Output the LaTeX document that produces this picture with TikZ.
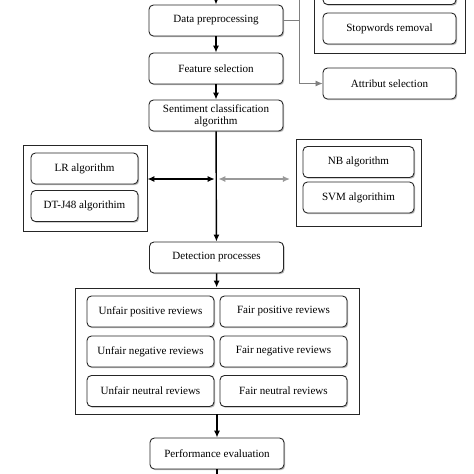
\documentclass[tikz,border=0pt]{standalone}
\usepackage{fontspec}
\setmainfont{Liberation Serif}
\usetikzlibrary{arrows.meta,shadows}

\begin{document}
\begin{tikzpicture}[x=0.02cm,y=-0.02cm,
	box/.style={draw=black!85,rounded corners=2.5pt,fill=white,line width=0.5pt,
		drop shadow={shadow xshift=0.7pt,shadow yshift=-0.7pt,fill=black!55},
		font=\fontsize{6.3}{7}\selectfont,align=center,inner sep=0pt,
		minimum width=2.68cm,minimum height=0.62cm},
	group/.style={draw=black!85,fill=white,line width=0.5pt,inner sep=0pt,
		drop shadow={shadow xshift=0.5pt,shadow yshift=-0.5pt,fill=black!20}},
	flow/.style={-{Latex[length=4pt,width=3.5pt]},line width=0.8pt},
	both/.style={{Latex[length=4pt,width=3.5pt]}-{Latex[length=4pt,width=3.5pt]},line width=0.8pt},
	tie/.style={black!50,line width=0.5pt}]
			          %cadre de la figure
			          \useasboundingbox (0,0) rectangle (474,474);
			          \clip (0,0) rectangle (474,474);
			          %groupes
			          \node[group,minimum width=3.02cm,minimum height=1.66cm] (pregroup) at (389.5,11.5) {};
			          \node[group,minimum width=2.48cm,minimum height=1.72cm] (lgroup) at (85,188) {};
			          \node[group,minimum width=2.5cm,minimum height=1.74cm] (rgroup) at (358.5,182.5) {};
			          \node[group,minimum width=5.68cm,minimum height=2.52cm] (revgroup) at (217,351) {};
			          %chaine principale
			          \node[box] (data) at (216,20.5) {Data preprocessing};
			          \node[box] (feat) at (216,68.5) {Feature selection};
			          \node[box] (senti) at (216,115.5) {Sentiment classification\\algorithm};
			          \node[box] (detect) at (216.5,257.5) {Detection processes};
			          \node[box] (perf) at (217,453.5) {Performance evaluation};
			          %pretraitement
			          \node[box,minimum width=2.66cm] (hidden) at (389.5,-11) {};
			          \node[box,minimum width=2.66cm] (stop) at (389.5,28.5) {Stopwords removal};
			          \node[box,minimum width=2.66cm] (attr) at (389.5,83.5) {Attribut selection};
			          %algorithmes
			          \node[box,minimum width=2.14cm] (lr) at (84.5,168.5) {LR algorithm};
			          \node[box,minimum width=2.14cm] (dt) at (84.5,206) {DT-J48 algorithim};
			          \node[box,minimum width=2.22cm] (nb) at (358.5,162) {NB algorithm};
			          \node[box,minimum width=2.22cm] (svm) at (358.5,197.5) {SVM algorithim};
			          %avis
			          \node[box,minimum width=2.54cm] (upos) at (150.5,311.5) {Unfair positive reviews};
			          \node[box,minimum width=2.54cm] (fpos) at (283.5,311.5) {Fair positive reviews};
			          \node[box,minimum width=2.54cm] (uneg) at (150.5,351.5) {Unfair negative reviews};
			          \node[box,minimum width=2.54cm] (fneg) at (283.5,351.5) {Fair negative reviews};
			          \node[box,minimum width=2.54cm] (uneu) at (150.5,391) {Unfair neutral reviews};
			          \node[box,minimum width=2.54cm] (fneu) at (283.5,391) {Fair neutral reviews};
			          %points libres
			          \coordinate (top) at (216,0);
			          \coordinate (bottom) at (217,474);
			          \coordinate (hub) at (216.5,179);
			          \coordinate (nbin) at (290,179);
			          \coordinate (split) at (299,20.5);
			          \coordinate (tiptop) at (299,0);
			          %fleches
			          \draw[flow] (top) -- (data);
			          \draw[flow] (data) -- (feat);
			          \draw[flow] (feat) -- (senti);
			          \draw[flow] (senti) -- (detect);
			          \draw[flow] (detect) -- (revgroup);
			          \draw[flow] (revgroup) -- (perf);
			          \draw[line width=0.8pt] (perf) -- (bottom);
			          \draw[both] (lgroup.east |- hub) -- ([xshift=-1pt]hub);
			          \draw[both,black!40] ([xshift=1pt]hub) -- (nbin);
			          \draw[tie] (data.east) -- (split);
			          \draw[tie,-{Latex[length=4pt,width=3.5pt]}] (tiptop) |- (attr.west);
				  \end{tikzpicture}
\end{document}
